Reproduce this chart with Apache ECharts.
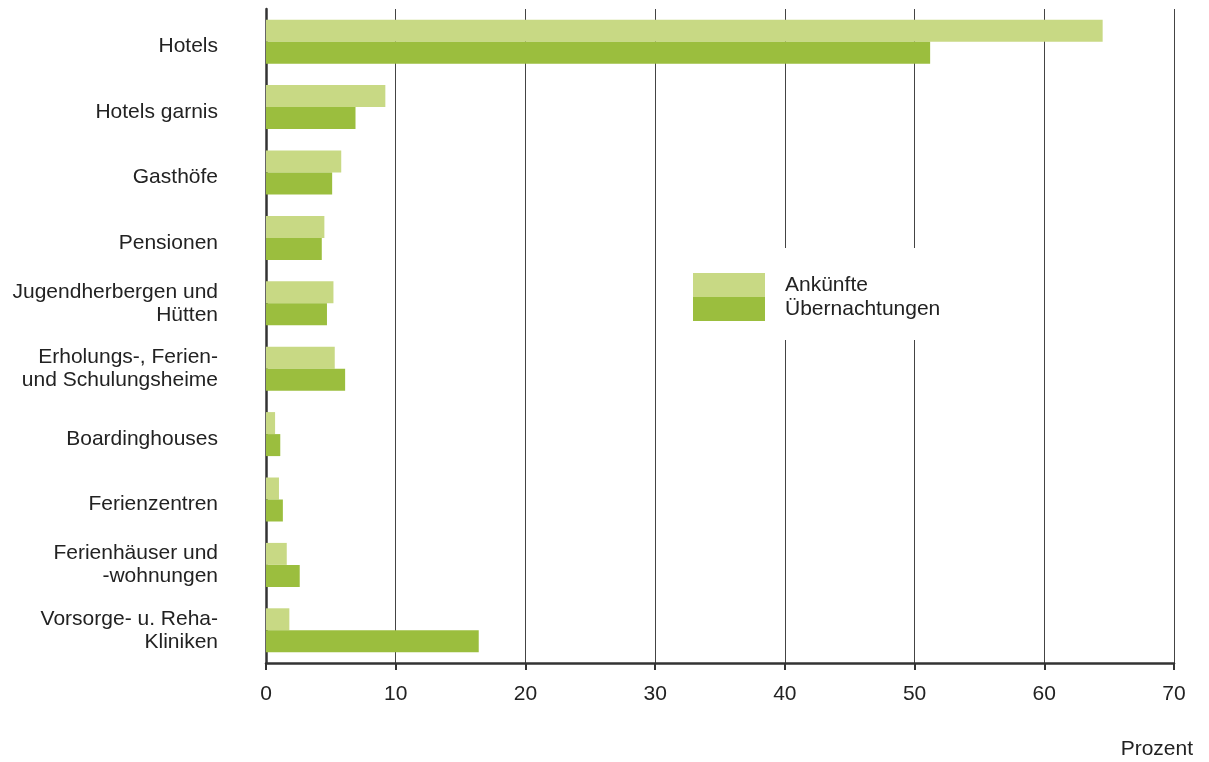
<!DOCTYPE html>
<html>
<head>
<meta charset="utf-8">
<script src="https://cdn.jsdelivr.net/npm/echarts@6/dist/echarts.min.js"></script>
<style>html,body{margin:0;padding:0;background:#fff;}#c{width:1209px;height:762px;}</style>
</head>
<body>
<div id="c"></div>
<script>
const categories = [
  "Hotels",
  "Hotels garnis",
  "Gasthöfe",
  "Pensionen",
  "Jugendherbergen und\nHütten",
  "Erholungs-, Ferien-\nund Schulungsheime",
  "Boardinghouses",
  "Ferienzentren",
  "Ferienhäuser und\n-wohnungen",
  "Vorsorge- u. Reha-\nKliniken"
];
const ankuenfte = [64.5, 9.2, 5.8, 4.5, 5.2, 5.3, 0.7, 1.0, 1.6, 1.8];
const uebernachtungen = [51.2, 6.9, 5.1, 4.3, 4.7, 6.1, 1.1, 1.3, 2.6, 16.4];
const seriesNames = ["Ankünfte", "Übernachtungen"];
const axisUnit = "Prozent";

const FONT = "'Liberation Sans', Arial, sans-serif";
const TXT = "#222";
const FS = 21;
const lineStyleText = { fontFamily: FONT, fontSize: FS, color: TXT, lineHeight: 23, align: 'right' };
const chart = echarts.init(document.getElementById('c'));
chart.setOption({
  animation: false,
  backgroundColor: '#fff',
  title: {
    text: axisUnit,
    right: 16,
    top: 739,
    padding: 0,
    textStyle: { fontFamily: FONT, fontSize: FS, fontWeight: 'normal', color: TXT }
  },
  legend: {
    orient: 'vertical',
    left: 680,
    top: 248,
    padding: [25, 22, 19, 13],
    backgroundColor: '#fff',
    itemWidth: 72,
    itemHeight: 24,
    itemGap: 0,
    icon: 'rect',
    z: 10,
    textStyle: { fontFamily: FONT, fontSize: FS, color: TXT, lineHeight: 18, padding: [6, 0, 0, 15] },
    data: seriesNames
  },
  grid: { left: 266, right: 35, top: 9, bottom: 99, containLabel: false },
  xAxis: {
    type: 'value',
    min: 0, max: 70, interval: 10,
    axisLine: { show: true, lineStyle: { color: '#333', width: 2.5 } },
    axisTick: { show: true, length: 7, lineStyle: { color: '#333', width: 2 } },
    axisLabel: { margin: 21, fontFamily: FONT, fontSize: FS, color: TXT },
    splitLine: { show: true, lineStyle: { color: '#444', width: 1 } }
  },
  yAxis: {
    type: 'category',
    inverse: true,
    data: categories,
    axisLine: { show: true, lineStyle: { color: '#333', width: 2.5 } },
    axisTick: { show: false },
    axisLabel: {
      margin: 48, fontFamily: FONT, fontSize: FS, color: TXT, lineHeight: 23, align: 'right',
      formatter: function (v) {
        if (v.indexOf('\n') < 0) return '{p|' + v + '}';
        return v.split('\n').map(function (l) { return '{a|' + l + '}'; }).join('\n');
      },
      rich: {
        p: Object.assign({ padding: [10, 0, 0, 0] }, lineStyleText),
        a: Object.assign({}, lineStyleText)
      }
    },
    splitLine: { show: false }
  },
  series: [
    { name: seriesNames[0], type: 'bar', data: ankuenfte, barWidth: 22, barGap: '0%', itemStyle: { color: '#c8d984' } },
    { name: seriesNames[1], type: 'bar', data: uebernachtungen, barWidth: 22, barGap: '0%', itemStyle: { color: '#9bbe3e' } }
  ]
});
</script>
</body>
</html>
